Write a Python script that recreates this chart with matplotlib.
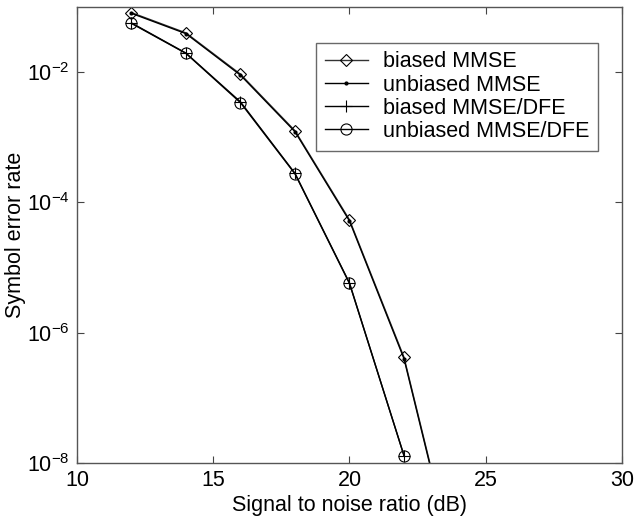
import numpy as np
import matplotlib
matplotlib.use("Agg")
import matplotlib.pyplot as plt
from matplotlib.ticker import FixedLocator, FuncFormatter, NullLocator

plt.rcParams['font.family'] = ['Liberation Sans', 'DejaVu Sans']
plt.rcParams['mathtext.default'] = 'regular'

# SNR (dB)
snr = [12, 14, 16, 18, 20, 22, 24]
snr_dfe = [12, 14, 16, 18, 20, 22]

# symbol error rates
ser_biased_mmse = [0.082, 0.040, 0.0093, 1.26e-3, 5.4e-5, 4.2e-7, 1.6e-10]
ser_unbiased_mmse = [0.080, 0.039, 0.0090, 1.22e-3, 5.2e-5, 4.0e-7, 1.5e-10]
ser_biased_dfe = [0.057, 0.0196, 0.0035, 2.8e-4, 5.8e-6, 1.3e-8]
ser_unbiased_dfe = [0.056, 0.0194, 0.0034, 2.75e-4, 5.7e-6, 1.3e-8]

labels = ['biased MMSE', 'unbiased MMSE', 'biased MMSE/DFE', 'unbiased MMSE/DFE']

fig = plt.figure(figsize=(6.36, 5.23), dpi=100)
ax = fig.add_axes([0.121, 0.1147, 0.857, 0.8719])

lw = 1.0
ax.semilogy(snr, ser_biased_mmse, '-', color='#333333', lw=lw, marker='D', ms=6.5,
            mfc='none', mec='k', mew=0.8, label=labels[0])
ax.semilogy(snr, ser_unbiased_mmse, '-', color='k', lw=lw, marker='.', ms=4,
            label=labels[1])
ax.semilogy(snr_dfe, ser_biased_dfe, '-', color='k', lw=lw, marker='+', ms=9,
            mew=0.8, label=labels[2])
ax.semilogy(snr_dfe, ser_unbiased_dfe, '-', color='k', lw=lw, marker='o', ms=8,
            mfc='none', mec='k', mew=0.8, label=labels[3])

ax.set_xlim(10, 30)
ax.set_ylim(1e-8, 1e-1)
ax.set_xticks([10, 15, 20, 25, 30])
ax.yaxis.set_major_locator(FixedLocator([1e-8, 1e-6, 1e-4, 1e-2]))
ax.yaxis.set_minor_locator(NullLocator())
ax.yaxis.set_major_formatter(FuncFormatter(lambda v, p: '$10^{%d}$' % int(round(np.log10(v)))))

fs = 15.5
ax.tick_params(which='both', direction='in', top=True, right=True, length=5,
               width=0.8, color='#444444', labelsize=fs, pad=5)
for s in ax.spines.values():
    s.set_color('#555555')
    s.set_linewidth(1.0)

ax.set_xlabel('Signal to noise ratio (dB)', fontsize=fs, labelpad=3)
ax.set_ylabel('Symbol error rate', fontsize=fs, labelpad=1)

leg = ax.legend(loc='upper right', bbox_to_anchor=(0.940, 0.918),
                bbox_transform=fig.transFigure, fontsize=fs, frameon=True,
                fancybox=False, edgecolor='#444444', handlelength=2.0,
                handletextpad=0.7, labelspacing=0.1, borderpad=0.4,
                borderaxespad=0)
leg.get_frame().set_linewidth(1.0)

fig.savefig('out.png', dpi=100)
